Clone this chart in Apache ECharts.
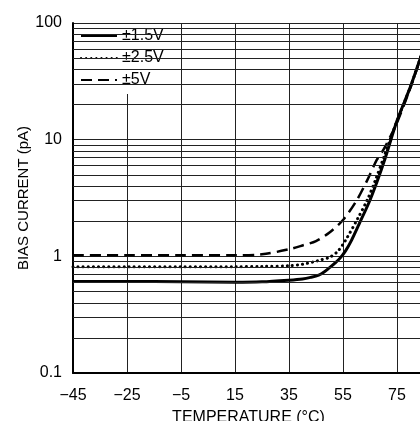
<!DOCTYPE html>
<html>
<head>
<meta charset="utf-8">
<script src="https://cdn.jsdelivr.net/npm/echarts@6/dist/echarts.min.js"></script>
<style>html,body{margin:0;padding:0;background:#fff}#c{width:420px;height:421px}</style>
</head>
<body>
<div id="c"></div>
<script>
// Data (temperature in °C, bias current in pA)
var solidT = [-45,-25,-5,15,25,35,40,43,46,48,50,52,54,56,58,61,64.5,67.5,70.5,75,80,85];
var solidV = [0.61,0.61,0.605,0.6,0.605,0.625,0.64,0.66,0.69,0.735,0.80,0.875,0.97,1.12,1.35,1.9,2.85,4.3,6.8,14.5,28.5,62];
var dotT = [-45,-25,-5,15,25,35,40,44,47,50,53,56,60.5,64,67,70.5,75,80,85];
var dotV = [0.815,0.815,0.815,0.815,0.82,0.83,0.855,0.895,0.935,0.98,1.1,1.38,2.12,3.05,4.5,7.5,14.5,28.5,62];
var dashT = [-45,-25,-5,15,25,35,40,45,50,55,60,64,67.5,70,72.5,75,80,85];
var dashV = [1.02,1.02,1.02,1.02,1.04,1.15,1.24,1.35,1.6,2.05,3.0,4.5,6.7,8.2,10.6,14,28,62];
var seriesNames = ['±1.5V','±2.5V','±5V'];
var minorLevels = [0.2,0.3,0.4,0.5,0.6,0.7,0.8,0.9,2,3,4,5,6,7,8,9,20,30,40,50,60,70,80,90];
var xTitle = 'TEMPERATURE (°C)';
var yTitle = 'BIAS CURRENT (pA)';

function pairs(t, v){ return t.map(function(x,i){ return [x, v[i]]; }); }
var FONT = '"Liberation Sans", Arial, sans-serif';
var chart = echarts.init(document.getElementById('c'), null, {renderer:'canvas'});
chart.setOption({
  animation: false,
  backgroundColor: '#fff',
  textStyle: {fontFamily: FONT},
  grid: {left: 73, top: 23, width: 351, height: 350, containLabel: false, outerBoundsMode: 'none'},
  legend: {
    left: 75, top: 24, orient: 'vertical',
    backgroundColor: '#fff',
    padding: [4, 15, 6, 5],
    itemGap: 6, itemWidth: 36, itemHeight: 16,
    itemStyle: {opacity: 0},
    textStyle: {fontSize: 16, color: '#000', fontFamily: FONT},
    data: seriesNames
  },
  xAxis: {
    type: 'value', min: -45, max: 85, interval: 20,
    name: xTitle, nameLocation: 'middle', nameGap: 37, nameMoveOverlap: false,
    nameTextStyle: {fontSize: 16, color: '#000', fontFamily: FONT},
    axisLine: {show: true, onZero: false, lineStyle: {color: '#000', width: 2}},
    axisTick: {show: false},
    axisLabel: {fontSize: 16, color: '#000', margin: 15, showMaxLabel: false,
      formatter: function(v){ return v < 0 ? '\u2212' + Math.abs(v) : String(v); }},
    splitLine: {show: true, lineStyle: {color: '#222', width: 1}}
  },
  yAxis: {
    type: 'log', logBase: 10, min: 0.1, max: 100,
    name: yTitle, nameLocation: 'middle', nameGap: 42, nameMoveOverlap: false,
    nameTextStyle: {fontSize: 15, color: '#000', fontFamily: FONT},
    axisLine: {show: true, onZero: false, lineStyle: {color: '#000', width: 2}},
    axisTick: {show: false},
    axisLabel: {fontSize: 16, color: '#000', margin: 11,
      formatter: function(v){ return v < 1 ? v.toFixed(1) : String(Math.round(v)); }},
    splitLine: {show: true, lineStyle: {color: '#222', width: 1}}
  },
  series: [
    {
      name: seriesNames[0], type: 'line', data: pairs(solidT, solidV),
      smooth: 0.3, symbol: 'none', clip: true,
      lineStyle: {color: '#000', width: 3},
      itemStyle: {color: '#000'},
      markLine: {
        silent: true, symbol: 'none', animation: false,
        label: {show: false},
        lineStyle: {color: '#222', width: 1, type: 'solid'},
        data: minorLevels.map(function(v){ return {yAxis: v}; })
      }
    },
    {
      name: seriesNames[1], type: 'line', data: pairs(dotT, dotV),
      smooth: 0.3, symbol: 'none', clip: true,
      lineStyle: {color: '#000', width: 3, type: [0.1, 5], cap: 'round'},
      itemStyle: {color: '#000'}
    },
    {
      name: seriesNames[2], type: 'line', data: pairs(dashT, dashV),
      smooth: 0.3, symbol: 'none', clip: true,
      lineStyle: {color: '#000', width: 2.5, type: [11, 6]},
      itemStyle: {color: '#000'}
    }
  ]
});
</script>
</body>
</html>
